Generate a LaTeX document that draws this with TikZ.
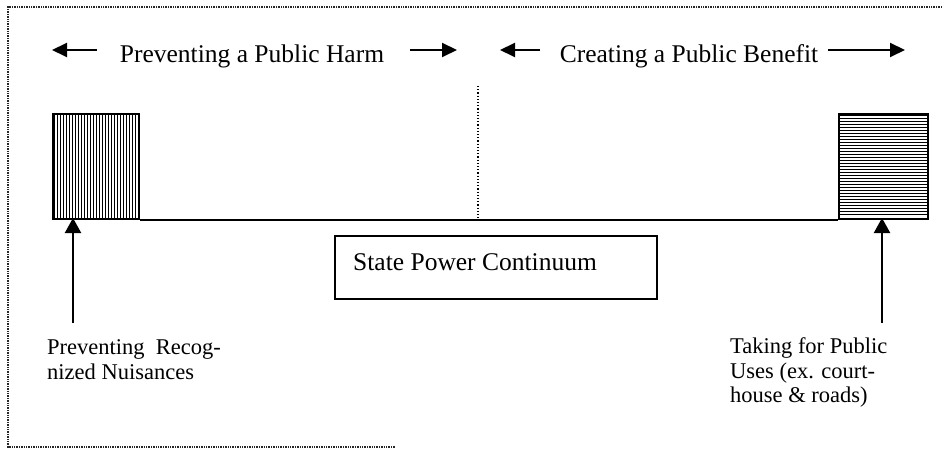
\documentclass[tikz,border=0pt]{standalone}
\usepackage{fontspec}
\setmainfont{Liberation Serif}
\usetikzlibrary{arrows.meta}
\begin{document}
\begin{tikzpicture}[x=1pt,y=-1pt,
  frame/.style={line width=1.6pt,dash pattern=on 1.4pt off 1pt,black!85},
  toparrow/.style={line width=2pt,-{Triangle[length=15pt,width=14pt]}},
  uparrow/.style={line width=2.2pt,-{Triangle[length=15pt,width=16pt]}},
  toptext/.style={font=\fontsize{25.5}{28}\selectfont,inner sep=0pt,anchor=base},
  labeltext/.style={font=\fontsize{22.5}{24.5}\selectfont,inner sep=0pt,align=left,anchor=north west},
  block/.style={draw,line width=2.2pt,inner sep=0pt},
  hatch/.style={line width=1.9pt}]
\useasboundingbox (0,0) rectangle (942,449);
% outer dotted frame
\draw[frame] (942,7) -- (8,7) -- (8,447) -- (395,447);
% top headings
\node[toptext] (harm) at (252,63) {Preventing a Public Harm};
\node[toptext] (benefit) at (689,63) {Creating a Public Benefit};
\coordinate (hl1) at (97,50); \coordinate (hl2) at (52,50);
\coordinate (hr1) at (410,50); \coordinate (hr2) at (457,50);
\coordinate (bl1) at (540,50); \coordinate (bl2) at (500,50);
\coordinate (br1) at (828,50); \coordinate (br2) at (905,50);
\draw[toparrow] (hl1) -- (hl2);
\draw[toparrow] (hr1) -- (hr2);
\draw[toparrow] (bl1) -- (bl2);
\draw[toparrow] (br1) -- (br2);
% hatched blocks
\foreach \x in {54.5,57.5,...,136} \draw[hatch] (\x,113) -- (\x,218);
\foreach \y in {115.5,118.5,...,217} \draw[hatch] (838,\y) -- (927,\y);
\node[block,minimum width=86pt,minimum height=105pt,anchor=north west] (left) at (52,113) {};
\node[block,minimum width=89pt,minimum height=105pt,anchor=north west] (right) at (838,113) {};
% continuum line
\draw[line width=2pt] (left.south east) -- (right.south west);
% dotted divider
\coordinate (dtop) at (478,86);
\coordinate (dbot) at (478,218);
\draw[line width=1.2pt,dotted] (dtop) -- (dbot);
% state power box
\node[block,minimum width=322pt,minimum height=63pt,anchor=north west] (box) at (334,235) {};
\node[toptext,anchor=base west] (sp) at (353,270) {State Power Continuum};
% pointer arrows
\coordinate (la) at (73,323);
\coordinate (ra) at (882,323);
\draw[uparrow] (la) -- (73,218);
\draw[uparrow] (ra) -- (882,218);
% labels
\node[labeltext] (lt) at (47,339.5) {Preventing\ \ Recog-\\nized Nuisances};
\node[labeltext] (rt) at (730,337.5) {Taking for Public\\Uses (ex. court-\\house \& roads)};
\end{tikzpicture}
\end{document}
